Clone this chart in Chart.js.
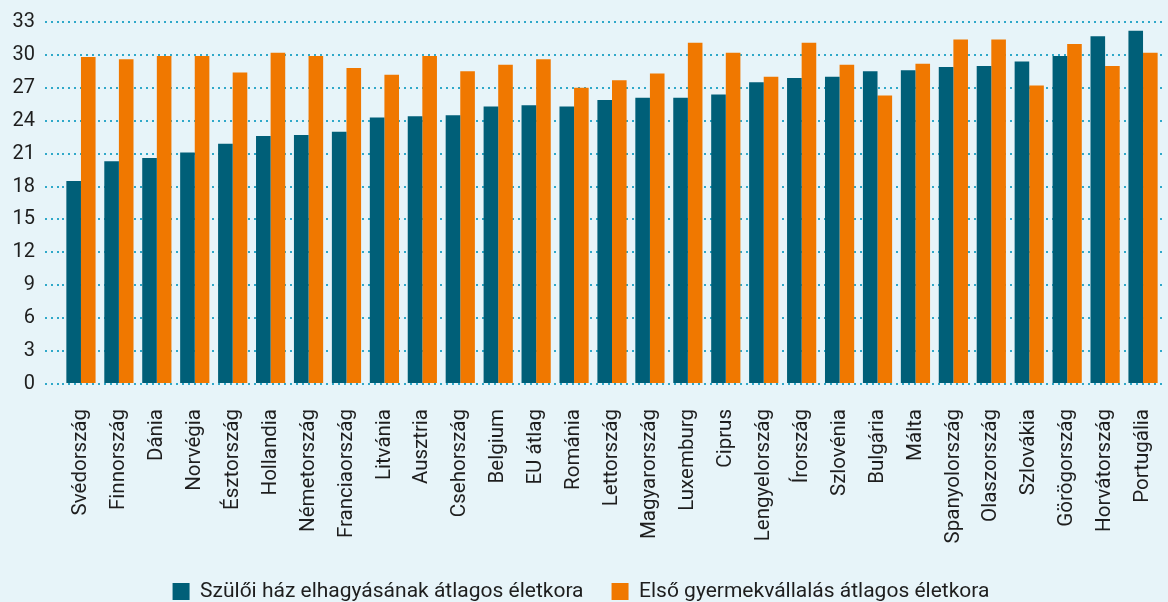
<!DOCTYPE html>
<html>
<head>
<meta charset="utf-8">
<script src="https://cdn.jsdelivr.net/npm/chart.js@4.4.1/dist/chart.umd.min.js"></script>
<style>
  html, body { margin: 0; padding: 0; background: #e7f4f9; overflow: hidden; }
  #wrap { width: 1168px; height: 612px; }
</style>
</head>
<body>
<div id="wrap"><canvas id="chart"></canvas></div>
<script>
const countries = ['Svédország', 'Finnország', 'Dánia', 'Norvégia', 'Észtország', 'Hollandia',
  'Németország', 'Franciaország', 'Litvánia', 'Ausztria', 'Csehország', 'Belgium', 'EU átlag',
  'Románia', 'Lettország', 'Magyarország', 'Luxemburg', 'Ciprus', 'Lengyelország', 'Írország',
  'Szlovénia', 'Bulgária', 'Málta', 'Spanyolország', 'Olaszország', 'Szlovákia', 'Görögország',
  'Horvátország', 'Portugália'];

// age when leaving the parental home
const leavingHome = [18.5, 20.3, 20.6, 21.1, 21.9, 22.6, 22.7, 23.0, 24.3, 24.4, 24.5, 25.3, 25.4,
  25.3, 25.9, 26.1, 26.1, 26.4, 27.5, 27.9, 28.0, 28.5, 28.6, 28.9, 29.0, 29.4, 29.9, 31.7, 32.2];

// age at first child
const firstChild = [29.8, 29.6, 29.9, 29.9, 28.4, 30.2, 29.9, 28.8, 28.2, 29.9, 28.5, 29.1, 29.6,
  27.0, 27.7, 28.3, 31.1, 30.2, 28.0, 31.1, 29.1, 26.3, 29.2, 31.4, 31.4, 27.2, 31.0, 29.0, 30.2];

const yTicks = [0, 3, 6, 9, 12, 15, 18, 21, 24, 27, 30, 33];

const seriesNames = ['Szülői ház elhagyásának átlagos életkora', 'Első gyermekvállalás átlagos életkora'];

const BLUE = '#005f78';
const ORANGE = '#f07800';
const DOTS = '#2fa8c9';
const TEXT = '#1e1e1e';

new Chart(document.getElementById('chart'), {
  type: 'bar',
  data: {
    labels: countries,
    datasets: [
      { label: seriesNames[0], data: leavingHome, backgroundColor: BLUE },
      { label: seriesNames[1], data: firstChild, backgroundColor: ORANGE }
    ]
  },
  options: {
    responsive: true,
    maintainAspectRatio: false,
    animation: false,
    datasets: {
      bar: { categoryPercentage: 0.77, barPercentage: 1.0 }
    },
    layout: { padding: { left: 0, right: 6, top: 12, bottom: 0 } },
    plugins: {
      tooltip: { enabled: false },
      legend: {
        position: 'bottom',
        labels: {
          font: { family: 'Roboto', size: 21 },
          color: TEXT,
          boxWidth: 17,
          boxHeight: 17,
          padding: 28
        }
      }
    },
    scales: {
      x: {
        grid: { display: false },
        border: { display: false },
        ticks: {
          minRotation: 90,
          maxRotation: 90,
          autoSkip: false,
          padding: 17,
          color: TEXT,
          font: { family: 'Roboto', size: 20.5 }
        },
        afterFit: (scale) => {
          scale.height = 169;
          scale.paddingLeft = 0;
          scale.paddingRight = 0;
        }
      },
      y: {
        min: 0,
        max: 33,
        border: { display: false, dash: [2, 4] },
        afterBuildTicks: (scale) => { scale.ticks = yTicks.map(v => ({ value: v })); },
        afterFit: (scale) => { scale.width = 62; },
        grid: {
          color: DOTS,
          lineWidth: 2,
          tickBorderDash: [2, 4],
          tickColor: DOTS,
          tickWidth: 2,
          tickLength: 17
        },
        ticks: {
          padding: 10,
          color: TEXT,
          font: { family: 'Roboto', size: 20 }
        }
      }
    }
  }
});
</script>
</body>
</html>
